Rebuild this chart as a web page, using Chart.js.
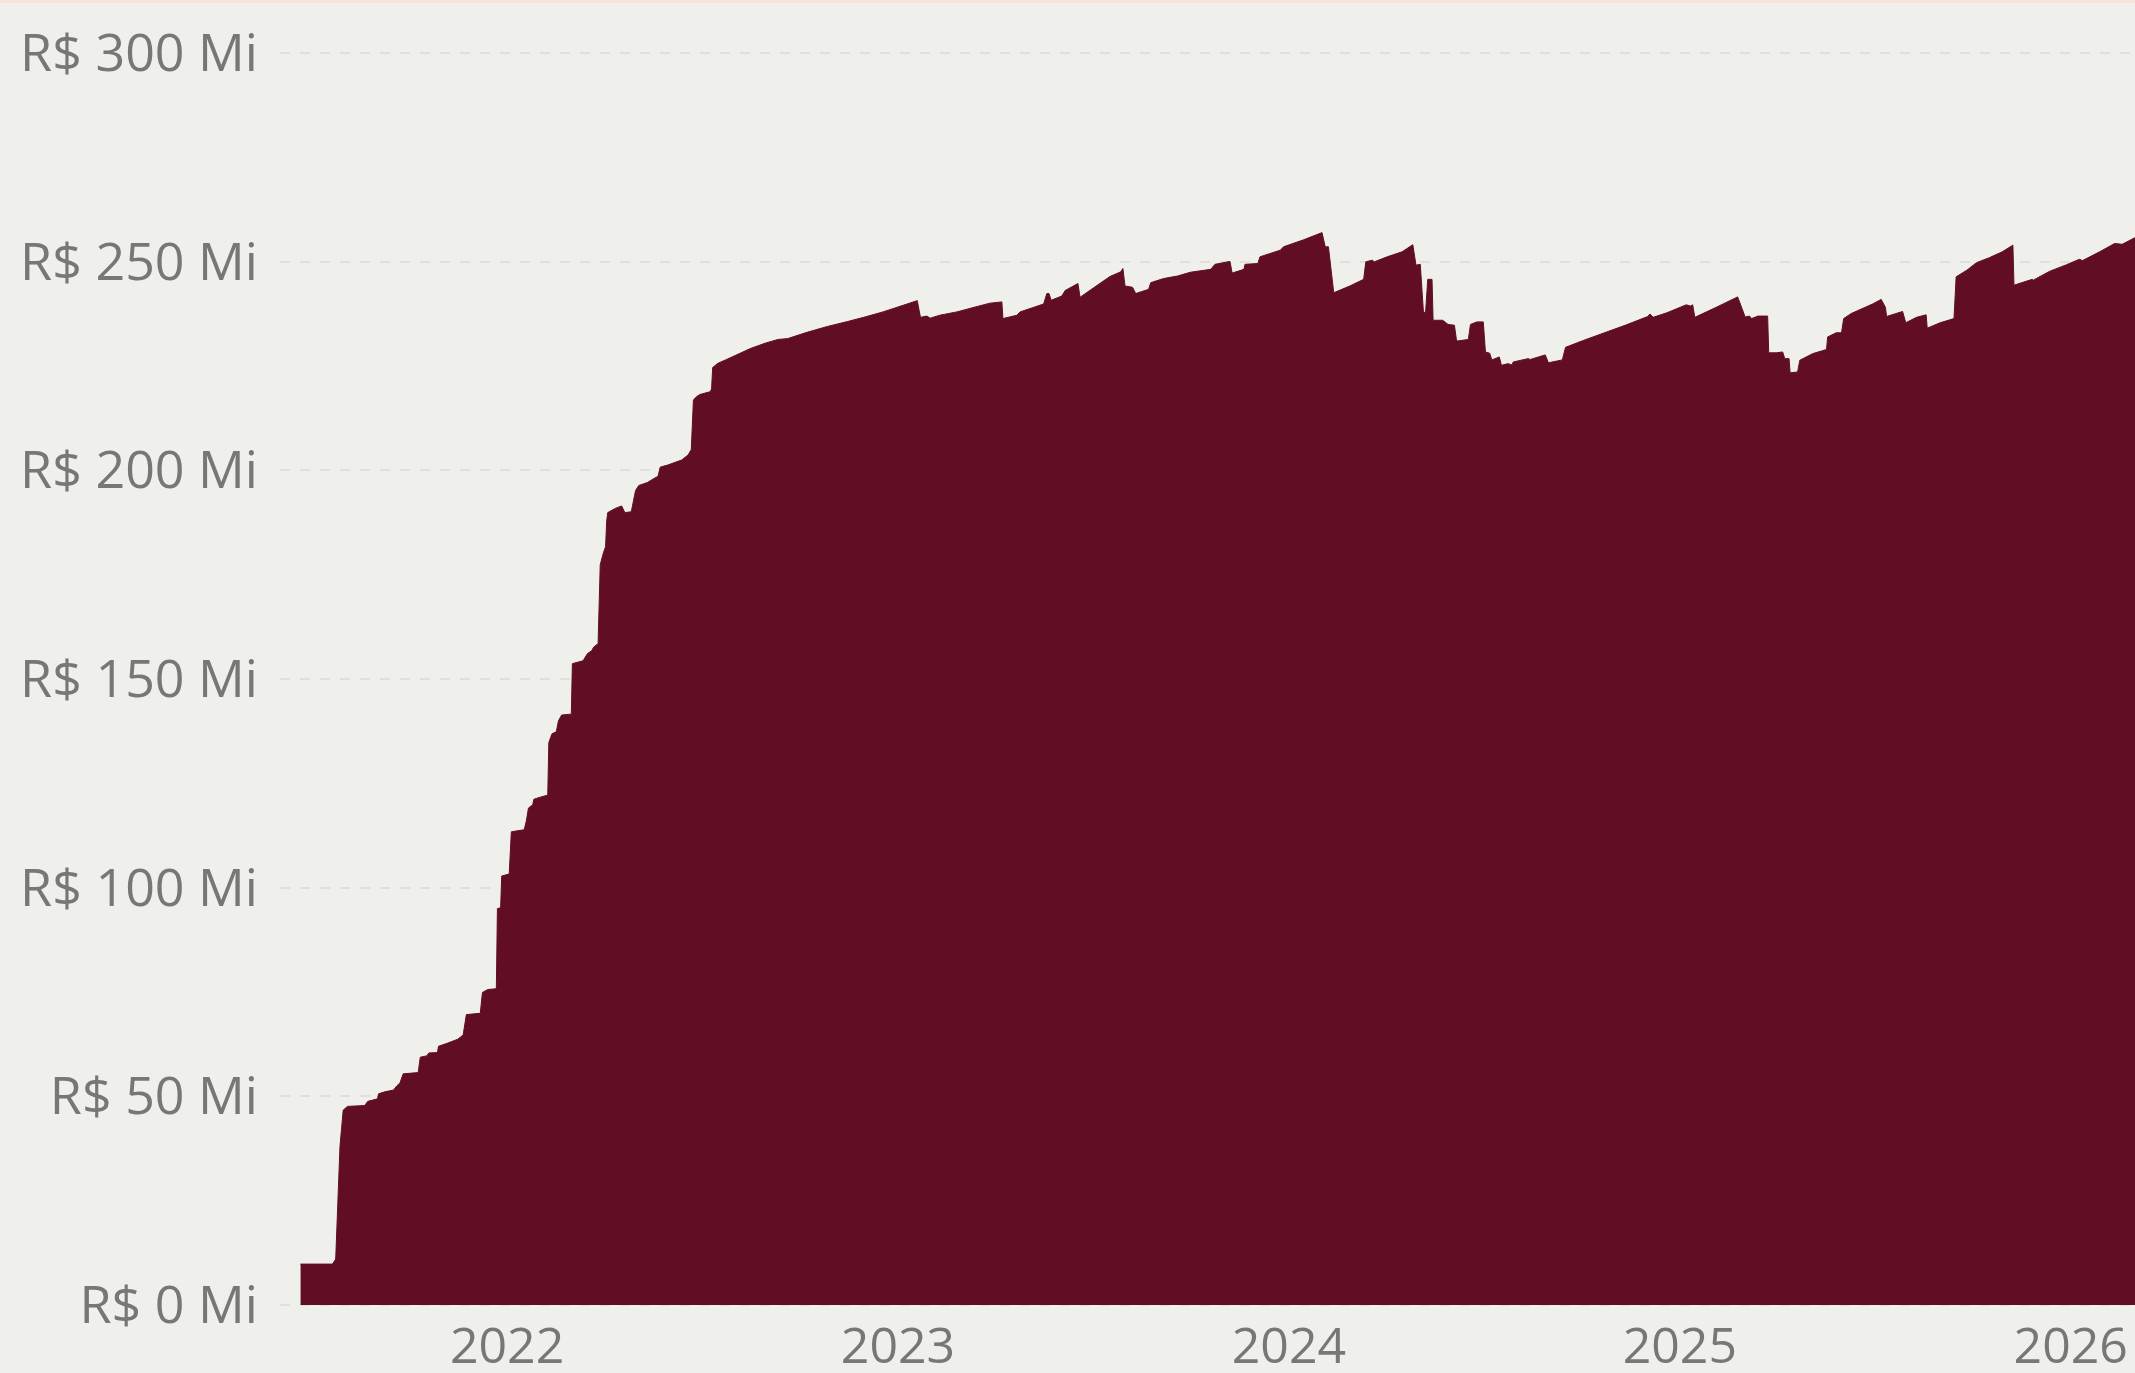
<!DOCTYPE html>
<html lang="pt-BR">
<head>
<meta charset="utf-8">
<title>Saldo acumulado</title>
<script src="https://cdn.jsdelivr.net/npm/chart.js"></script>
<style>
    html, body { margin: 0; padding: 0; background: #eff0eb; }
    #faixa { position: absolute; left: 0; top: 0; width: 2135px; height: 3px; background: #fbe2d8; }
    #grafico { position: absolute; left: 0; top: 0; }
</style>
</head>
<body>
<canvas id="grafico" width="2135" height="1373"></canvas>
<div id="faixa"></div>
<script>
// Datas (vértices da área)
const datas = [
    '2021-06-22', '2021-07-22', '2021-07-25', '2021-07-29', '2021-08-01', '2021-08-05', '2021-08-21', '2021-08-24',
    '2021-09-02', '2021-09-03', '2021-09-09', '2021-09-17', '2021-09-20', '2021-09-23', '2021-09-26', '2021-10-10',
    '2021-10-12', '2021-10-18', '2021-10-20', '2021-10-28', '2021-10-29', '2021-11-06', '2021-11-16', '2021-11-21',
    '2021-11-24', '2021-12-07', '2021-12-09', '2021-12-14', '2021-12-22', '2021-12-23', '2021-12-26', '2021-12-27',
    '2022-01-03', '2022-01-05', '2022-01-17', '2022-01-19', '2022-01-21', '2022-01-25', '2022-01-26', '2022-02-01',
    '2022-02-08', '2022-02-09', '2022-02-12', '2022-02-16', '2022-02-18', '2022-02-21', '2022-03-02', '2022-03-03',
    '2022-03-13', '2022-03-17', '2022-03-21', '2022-03-23', '2022-03-27', '2022-03-29', '2022-04-01', '2022-04-03',
    '2022-04-04', '2022-04-05', '2022-04-12', '2022-04-18', '2022-04-21', '2022-04-27', '2022-05-01', '2022-05-04',
    '2022-05-12', '2022-05-17', '2022-05-22', '2022-05-24', '2022-05-31', '2022-06-13', '2022-06-19', '2022-06-22',
    '2022-06-24', '2022-06-27', '2022-06-30', '2022-07-10', '2022-07-11', '2022-07-12', '2022-07-17', '2022-07-24',
    '2022-08-05', '2022-08-16', '2022-08-30', '2022-09-11', '2022-09-20', '2022-10-08', '2022-10-27', '2022-11-15',
    '2022-11-30', '2022-12-18', '2023-01-06', '2023-01-19', '2023-01-22', '2023-01-28', '2023-01-31', '2023-02-09',
    '2023-02-25', '2023-03-16', '2023-03-28', '2023-04-08', '2023-04-09', '2023-04-22', '2023-04-25', '2023-05-17',
    '2023-05-20', '2023-05-22', '2023-05-24', '2023-06-03', '2023-06-06', '2023-06-18', '2023-06-20', '2023-06-30',
    '2023-07-18', '2023-07-28', '2023-07-30', '2023-08-01', '2023-08-08', '2023-08-11', '2023-08-23', '2023-08-25',
    '2023-09-06', '2023-09-19', '2023-10-01', '2023-10-20', '2023-10-24', '2023-11-07', '2023-11-09', '2023-11-20',
    '2023-11-21', '2023-12-03', '2023-12-05', '2023-12-24', '2023-12-27', '2024-01-15', '2024-02-01', '2024-02-04',
    '2024-02-07', '2024-02-12', '2024-02-27', '2024-03-11', '2024-03-13', '2024-03-19', '2024-03-21', '2024-04-02',
    '2024-04-16', '2024-04-26', '2024-04-29', '2024-05-03', '2024-05-06', '2024-05-08', '2024-05-10', '2024-05-14',
    '2024-05-15', '2024-05-24', '2024-05-29', '2024-06-04', '2024-06-06', '2024-06-17', '2024-06-19', '2024-06-25',
    '2024-07-01', '2024-07-03', '2024-07-07', '2024-07-09', '2024-07-16', '2024-07-18', '2024-07-24', '2024-07-28',
    '2024-07-29', '2024-08-12', '2024-08-14', '2024-08-28', '2024-08-31', '2024-09-13', '2024-09-16', '2024-10-02',
    '2024-11-12', '2024-12-02', '2024-12-04', '2024-12-07', '2024-12-20', '2025-01-07', '2025-01-11', '2025-01-13',
    '2025-01-15', '2025-02-04', '2025-02-24', '2025-03-03', '2025-03-07', '2025-03-09', '2025-03-15', '2025-03-24',
    '2025-03-25', '2025-04-01', '2025-04-07', '2025-04-09', '2025-04-13', '2025-04-14', '2025-04-21', '2025-04-23',
    '2025-05-05', '2025-05-18', '2025-05-19', '2025-05-27', '2025-06-01', '2025-06-03', '2025-06-10', '2025-06-30',
    '2025-07-08', '2025-07-12', '2025-07-13', '2025-07-28', '2025-07-31', '2025-08-10', '2025-08-19', '2025-08-20',
    '2025-09-01', '2025-09-14', '2025-09-16', '2025-09-26', '2025-10-05', '2025-10-17', '2025-10-29', '2025-11-08',
    '2025-11-09', '2025-11-26', '2025-11-27', '2025-12-12', '2025-12-28', '2026-01-09', '2026-01-12', '2026-01-28',
    '2026-02-11', '2026-02-18', '2026-03-02'
];

// Valores acumulados em milhões de R$
const valores = [
    9.8, 9.8, 11, 38, 46.7, 47.6, 47.8, 48.8,
    49.4, 50.6, 51.1, 51.5, 52.5, 53.2, 55.4, 55.7,
    59.4, 59.7, 60.4, 60.5, 62, 62.7, 63.7, 64.7,
    69.6, 69.9, 74.9, 75.6, 75.8, 95, 95.2, 102.8,
    103.3, 113.4, 113.9, 116, 119.1, 119.9, 121.2, 121.7,
    122.2, 134.8, 136.9, 137.4, 140, 141.4, 141.6, 153.7,
    154.4, 156.1, 156.8, 157.7, 158.5, 177.4, 180.3, 181.7,
    187.8, 189.9, 190.9, 191.5, 189.9, 190.1, 195.2, 196.4,
    197.1, 197.9, 198.6, 200.8, 201.3, 202.5, 203.7, 205,
    216.9, 217.7, 218.2, 218.9, 219.7, 224.7, 225.7, 226.5,
    227.9, 229.2, 230.5, 231.4, 231.6, 233.1, 234.5, 235.7,
    236.7, 238.0, 239.6, 240.7, 236.7, 237, 236.5, 237.2,
    238, 239.3, 240.1, 240.4, 236.4, 237.2, 238, 239.9,
    242.4, 242.4, 240.8, 241.8, 243.1, 244.8, 241.5, 243.3,
    246.5, 247.6, 248.4, 244.2, 243.9, 242.4, 243.4, 245,
    246, 246.6, 247.5, 248.2, 249.4, 250.1, 247.3, 248.2,
    249.4, 249.6, 251.2, 252.8, 253.6, 255.3, 257, 253.6,
    253.6, 242.6, 244.2, 245.8, 250, 250.4, 250, 251.2,
    252.4, 254.1, 249.2, 249.4, 237.8, 238.0, 245.8, 245.8,
    236, 236, 235, 234.8, 231, 231.4, 235, 235.6,
    235.6, 228.4, 228.1, 226.5, 227.2, 225.2, 225.6, 225.3,
    226, 226.8, 226.6, 227.7, 225.8, 226.5, 229.5, 231.1,
    234.9, 236.9, 237.5, 236.7, 237.8, 239.7, 239.4, 239.7,
    236.7, 239.1, 241.6, 236.8, 237, 236.4, 237, 237,
    228.2, 228.2, 228.4, 226.8, 226.8, 223.4, 223.6, 226.4,
    228, 229, 232, 233, 233, 236.4, 237.6, 239.9,
    241, 239.1, 236.9, 238.1, 235.4, 236.7, 237.3, 234.1,
    235.4, 236.4, 246.4, 248, 249.8, 251, 252.4, 254,
    244.4, 245.8, 245.6, 247.7, 249.3, 250.6, 250.3, 252.4,
    254.4, 254.2, 255.8
];

// Rótulos dos eixos
const anosEixo = [2022, 2023, 2024, 2025, 2026];
const marcasY = [0, 50, 100, 150, 200, 250, 300];
const inicioEixo = '2021-06-03';
const fimEixo = '2026-03-02';

// Converte 'AAAA-MM-DD' em ano decimal para o eixo linear
const paraAno = (s) => {
    const [a, m, d] = s.split('-').map(Number);
    const t0 = Date.UTC(a, 0, 1);
    const t1 = Date.UTC(a + 1, 0, 1);
    return a + (Date.UTC(a, m - 1, d) - t0) / (t1 - t0);
};

const pontos = datas.map((d, i) => ({ x: paraAno(d), y: valores[i] }));

const config = {
    type: 'line',
    data: {
        datasets: [{
            data: pontos,
            fill: 'origin',
            backgroundColor: '#610e25',
            borderColor: '#610e25',
            borderWidth: 1,
            pointRadius: 0,
            tension: 0
        }]
    },
    options: {
        responsive: false,
        animation: false,
        devicePixelRatio: 1,
        layout: { padding: { top: 53, right: 0, left: 0, bottom: 0 } },
        plugins: { legend: { display: false }, tooltip: { enabled: false } },
        scales: {
            x: {
                type: 'linear',
                min: paraAno(inicioEixo),
                max: paraAno(fimEixo),
                afterBuildTicks: (s) => { s.ticks = anosEixo.map(v => ({ value: v })); },
                // altura fixa e sem margem extra nas pontas
                afterFit: (s) => { s.height = 68; s.paddingLeft = 0; s.paddingRight = 0; },
                grid: { display: false, drawTicks: false },
                border: { display: false },
                ticks: {
                    autoSkip: false,
                    maxRotation: 0,
                    padding: 14,
                    color: '#777777',
                    font: { family: "'Open Sans', sans-serif", size: 50 },
                    callback: (v) => String(v)
                }
            },
            y: {
                min: 0,
                max: 300,
                afterBuildTicks: (s) => { s.ticks = marcasY.map(v => ({ value: v })); },
                afterFit: (s) => { s.width = 280; },
                grid: { color: '#dfe0db', lineWidth: 2, drawTicks: false },
                border: { display: false, dash: [10, 10] },
                ticks: {
                    padding: 22,
                    labelOffset: 3,
                    color: '#777777',
                    font: { family: "'Open Sans', sans-serif", size: 52 },
                    callback: (v) => 'R$ ' + v + ' Mi'
                }
            }
        }
    }
};

const iniciarGrafico = () => {
    const ctx = document.getElementById('grafico').getContext('2d');
    new Chart(ctx, config);
};

document.addEventListener('DOMContentLoaded', iniciarGrafico);
</script>
</body>
</html>
